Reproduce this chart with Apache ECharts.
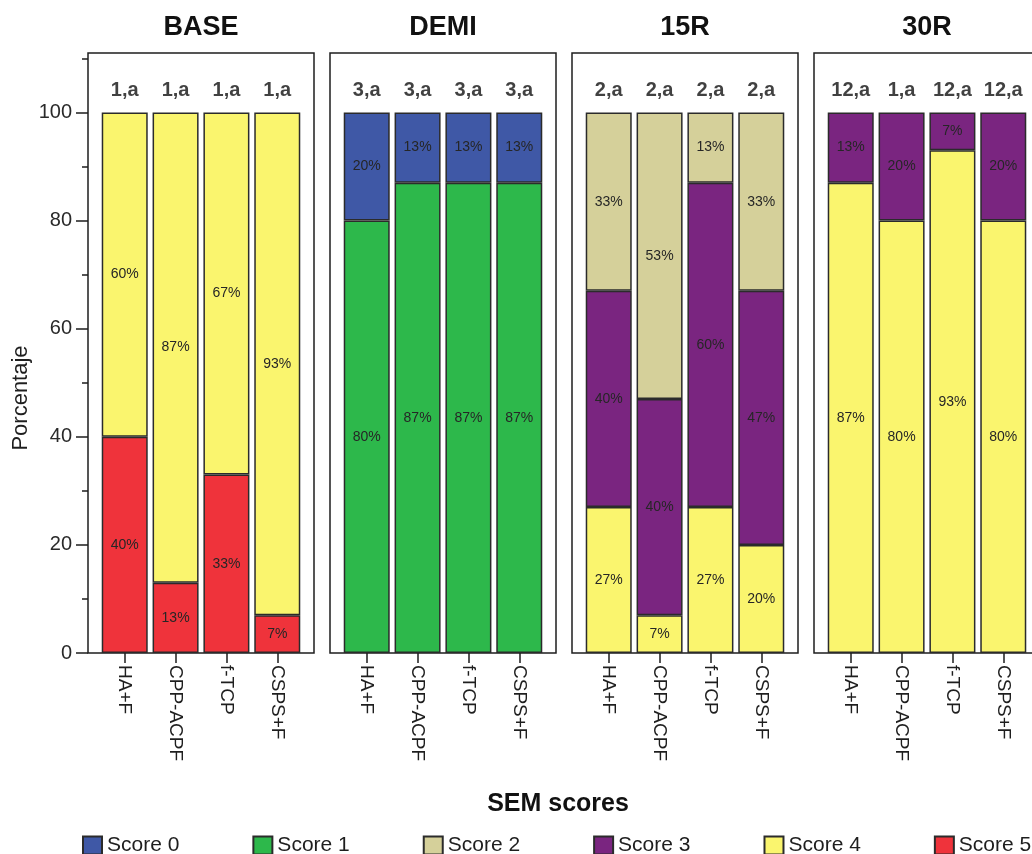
<!DOCTYPE html>
<html>
<head>
<meta charset="utf-8">
<script src="https://cdn.jsdelivr.net/npm/echarts@6/dist/echarts.min.js"></script>
<style>
  html, body { margin: 0; padding: 0; background: #ffffff; }
  #chart { width: 1032px; height: 854px; }
</style>
</head>
<body>
<div id="chart"></div>
<script>
// Panels (time points) and the four materials in each panel
const panels = ['BASE', 'DEMI', '15R', '30R'];
const materials = ['HA+F', 'CPP-ACPF', 'f-TCP', 'CSPS+F'];
const scoreNames = ['Score 0', 'Score 1', 'Score 2', 'Score 3', 'Score 4', 'Score 5'];

// Percentage of samples per score, one row per panel (BASE, DEMI, 15R, 30R), one value per material
const score0 = [[0, 0, 0, 0], [20, 13, 13, 13], [0, 0, 0, 0], [0, 0, 0, 0]];
const score1 = [[0, 0, 0, 0], [80, 87, 87, 87], [0, 0, 0, 0], [0, 0, 0, 0]];
const score2 = [[0, 0, 0, 0], [0, 0, 0, 0], [33, 53, 13, 33], [0, 0, 0, 0]];
const score3 = [[0, 0, 0, 0], [0, 0, 0, 0], [40, 40, 60, 47], [13, 20, 7, 20]];
const score4 = [[60, 87, 67, 93], [0, 0, 0, 0], [27, 7, 27, 20], [87, 80, 93, 80]];
const score5 = [[40, 13, 33, 7], [0, 0, 0, 0], [0, 0, 0, 0], [0, 0, 0, 0]];

// Median score and significance letter above each bar
const medianLabels = [
  ['1,a', '1,a', '1,a', '1,a'],
  ['3,a', '3,a', '3,a', '3,a'],
  ['2,a', '2,a', '2,a', '2,a'],
  ['12,a', '1,a', '12,a', '12,a']
];

// Y axis ticks
const yMajorTicks = [0, 20, 40, 60, 80, 100];
const yMinorTicks = [10, 30, 50, 70, 90, 110];
const yMax = 111;

const scoreColors = ['#3f58a6', '#2db84b', '#d5d09a', '#7a2580', '#faf56e', '#ef333b'];
const scores = [score0, score1, score2, score3, score4, score5];

const FONT = "'Liberation Sans', Arial, sans-serif";
const INK = '#1e1e1e';

// Layout of the four framed panels
const frameLeft = [88, 330, 572, 814];
const frameWidth = 226;
const frameTop = 53;
const frameHeight = 600;
const innerPad = 11.3;

const grids = [];
const xAxes = [];
const yAxes = [];
const series = [];
const titles = [];

// Frame grids (0..3)
panels.forEach((p, i) => {
  grids.push({
    left: frameLeft[i], top: frameTop, width: frameWidth, height: frameHeight,
    outerBoundsMode: 'none',
    show: true, borderColor: INK, borderWidth: 1.5, backgroundColor: 'transparent'
  });
  xAxes.push({ gridIndex: i, type: 'value', show: false });
  if (i === 0) {
    yAxes.push({
      gridIndex: 0, type: 'value', min: 0, max: yMax,
      name: 'Porcentaje', nameLocation: 'middle', nameGap: 56,
      nameTextStyle: { fontSize: 22, color: INK, fontFamily: FONT, padding: [0, 90, 0, 0] },
      axisLine: { show: false },
      axisTick: { show: true, length: 12, customValues: yMajorTicks, lineStyle: { color: INK, width: 1.5 } },
      axisLabel: { show: true, customValues: yMajorTicks, fontSize: 20, color: '#2a2a2a', margin: 16, fontFamily: FONT },
      splitLine: { show: false }
    });
  } else {
    yAxes.push({ gridIndex: i, type: 'value', min: 0, max: yMax, show: false });
  }
  titles.push({
    text: p, left: frameLeft[i] + frameWidth / 2, top: 14, textAlign: 'center', padding: 0,
    textStyle: { fontSize: 27, fontWeight: 'bold', color: '#111', fontFamily: FONT }
  });
});

// Data grids (4..7), inset inside each frame
panels.forEach((p, i) => {
  grids.push({
    left: frameLeft[i] + innerPad, top: frameTop,
    width: frameWidth - 2 * innerPad, height: frameHeight,
    outerBoundsMode: 'none'
  });
  xAxes.push({
    gridIndex: 4 + i, type: 'category', data: materials,
    axisLine: { show: false },
    axisTick: { show: true, alignWithLabel: true, length: 10, lineStyle: { color: INK, width: 1.5 } },
    axisLabel: { rotate: -90, margin: 12, fontSize: 19, color: INK, fontFamily: FONT },
    splitLine: { show: false }
  });
  yAxes.push({ gridIndex: 4 + i, type: 'value', min: 0, max: yMax, show: false });
});

// Minor ticks on the left axis (yAxis index 8)
yAxes.push({
  gridIndex: 0, type: 'value', min: 0, max: yMax, position: 'left',
  axisLine: { show: false },
  axisLabel: { show: false },
  axisTick: { show: true, length: 6, customValues: yMinorTicks, lineStyle: { color: INK, width: 1.5 } },
  splitLine: { show: false }
});

// Stacked bars: Score 5 at the bottom up to Score 0 at the top
panels.forEach((p, i) => {
  for (let s = 5; s >= 0; s--) {
    series.push({
      name: scoreNames[s], type: 'bar', stack: 'panel' + i,
      xAxisIndex: 4 + i, yAxisIndex: 4 + i,
      barWidth: 46,
      data: scores[s][i].map(v => (v === 0 ? null : v)),
      itemStyle: { color: scoreColors[s], borderColor: '#2b2b2b', borderWidth: 1.5 },
      label: {
        show: true, position: 'inside', fontSize: 14, color: '#262626', fontFamily: FONT,
        formatter: d => (d.value ? d.value + '%' : '')
      },
      emphasis: { disabled: true },
      silent: true
    });
  }
  // Totals carry the median/letter labels above each bar
  const totals = materials.map((m, k) => scores.reduce((acc, arr) => acc + arr[i][k], 0));
  series.push({
    name: 'median', type: 'scatter', xAxisIndex: 4 + i, yAxisIndex: 4 + i,
    symbolSize: 0, silent: true, data: totals,
    label: {
      show: true, position: 'top', distance: 12,
      fontSize: 20, fontWeight: 'bold', color: '#111', fontFamily: FONT,
      formatter: d => medianLabels[i][d.dataIndex]
    }
  });
});

titles.push({
  text: 'SEM scores', left: 558, top: 792, textAlign: 'center', padding: 0,
  textStyle: { fontSize: 25, fontWeight: 'bold', color: '#111', fontFamily: FONT }
});

const chart = echarts.init(document.getElementById('chart'), null, { renderer: 'canvas' });
chart.setOption({
  animation: false,
  backgroundColor: '#ffffff',
  textStyle: { fontFamily: FONT },
  title: titles,
  legend: {
    data: scoreNames, left: 82, top: 835, width: 1100, padding: 0,
    itemWidth: 19, itemHeight: 18, itemGap: 73,
    icon: 'rect',
    textStyle: { fontSize: 21, color: INK, fontFamily: FONT },
    selectedMode: false
  },
  grid: grids,
  xAxis: xAxes,
  yAxis: yAxes,
  series: series
});
</script>
</body>
</html>
